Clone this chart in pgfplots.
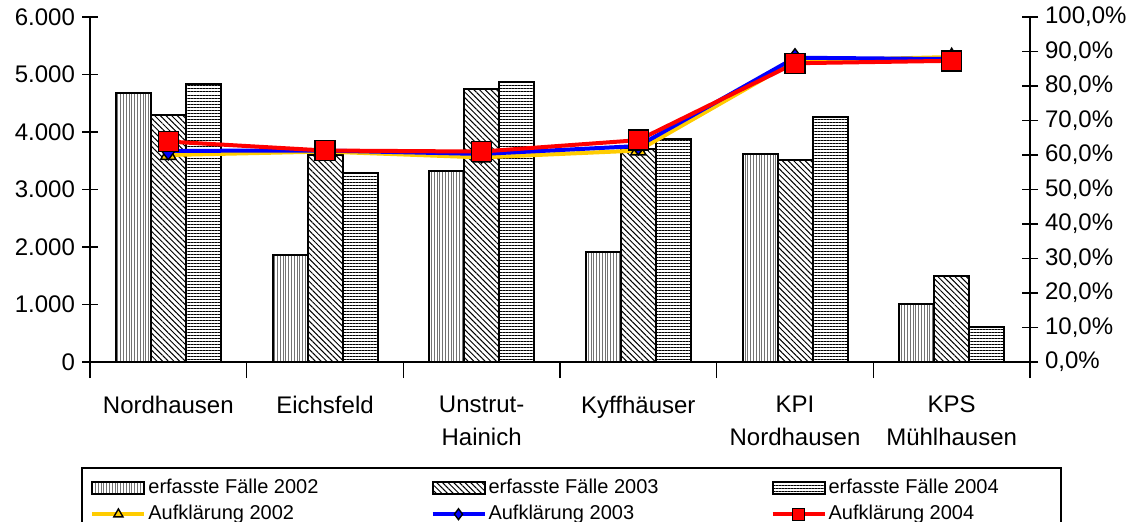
\documentclass[border=0pt]{standalone}
\usepackage{fontspec}
\setmainfont{Liberation Sans}
\usepackage{pgfplots}
\usepackage{pgfplotstable}
\pgfplotsset{compat=1.18}
\usetikzlibrary{patterns.meta}
\definecolor{cyel}{HTML}{FFCC00}
\definecolor{cblue}{HTML}{0000FF}
\definecolor{cred}{HTML}{FF0000}
\pgfplotstableread{
x  f02  f03  f04
0  4673 4290 4835
1  1861 3595 3281
2  3322 4748 4875
3  1907 3700 3878
4  3623 3513 4261
5  1009 1490  603
}\faelle
\pgfplotstableread{
x  a02   a03   a04
0  60.0  61.2  63.9
1  61.0  61.3  61.3
2  59.3  60.3  61.0
3  61.3  62.6  64.3
4  87.3  88.2  86.6
5  88.4  87.8  87.3
}\aufkl
\tikzset{
  p02/.style={pattern={Lines[angle=90,distance=1.4pt,line width=0.3pt]},pattern color=black!55},
  p03/.style={pattern={Lines[angle=-45,distance=2pt,line width=0.5pt]},pattern color=black},
  p04/.style={pattern={Lines[angle=0,distance=1.5pt,line width=0.5pt]},pattern color=black},
}
\pgfplotsset{
  base/.style={
    at={(45pt,79.5pt)}, anchor=south west,
    scale only axis, width=470pt, height=172.5pt,
    xmin=-0.5, xmax=5.5,
    font=\fontsize{12}{16.5}\selectfont,
    tick align=center, major tick length=8pt,
    /pgf/number format/assume math mode=true,
    every tick/.style={black, line width=0.6pt},
    axis line style={black, line width=0.6pt},
  },
  barleg/.style={legend image code/.code={\draw[##1] (0pt,-3pt) rectangle (26pt,3pt);}},
  lineleg/.style={legend image code/.code={\draw[##1, mark repeat=2, mark phase=2, every mark/.append style={scale=0.6}] plot coordinates {(0pt,0pt) (13pt,0pt) (26pt,0pt)};}},
}
\begin{document}
\begin{tikzpicture}
\useasboundingbox (0,0) rectangle (569.5pt,260.5pt);
\begin{axis}[base,
  axis y line*=left, axis x line*=bottom,
  ymin=0, ymax=6000, ytick={0,1000,...,6000},
  scaled y ticks=false,
  /pgf/number format/1000 sep={.},
  xtick={-0.5,0.5,1.5,2.5,3.5,4.5,5.5}, xticklabels={},
  extra x ticks={0,1,2,3,4,5},
  extra x tick labels={Nordhausen,Eichsfeld,{Unstrut-\\Hainich},Kyffhäuser,{KPI\\Nordhausen},{KPS\\Mühlhausen}},
  extra x tick style={major tick length=0pt, xticklabel style={align=center, anchor=north, yshift=-13.5pt}},
  ybar, bar width=0.2234,
]
\addplot[draw=black, line width=1pt, p02, bar shift=-0.2234] table[x=x,y=f02] {\faelle};
\addplot[draw=black, line width=1pt, p03, bar shift=0] table[x=x,y=f03] {\faelle};
\addplot[draw=black, line width=1pt, p04, bar shift=0.2234] table[x=x,y=f04] {\faelle};
\end{axis}
\begin{axis}[base,
  axis y line*=right, axis x line=none,
  ymin=0, ymax=100, ytick={0,10,...,100},
  yticklabel={\pgfmathprintnumber[fixed,fixed zerofill,precision=1,use comma]{\tick}\%},
  legend columns=3,
  legend cell align=left,
  legend style={at={(axis description cs:0,0)}, anchor=north west, yshift=-57.85pt,
    draw=none, fill=none, inner sep=0pt, row sep=3.5pt,
    font=\fontsize{10}{12}\selectfont,
    nodes={inner ysep=0pt, inner xsep=1pt, text height=7.5pt, text depth=2.2pt},
    /tikz/every odd column/.append style={column sep=0pt},
    /tikz/every even column/.append style={column sep=55pt}},
]
\addlegendimage{barleg, draw=black, line width=1pt, p02}
\addlegendentry{erfasste Fälle 2002}
\addlegendimage{barleg, draw=black, line width=1pt, p03}
\addlegendentry{erfasste Fälle 2003}
\addlegendimage{barleg, draw=black, line width=1pt, p04}
\addlegendentry{erfasste Fälle 2004}
\addplot[lineleg, cyel, line width=2pt, mark=triangle*, mark size=4.4pt, mark options={fill=cyel, draw=black, line width=0.7pt}] table[x=x,y=a02] {\aufkl};
\addlegendentry{Aufklärung 2002}
\addplot[lineleg, cblue, line width=2pt, mark=diamond*, mark size=4.5pt, mark options={fill=cblue, draw=black, line width=0.7pt}] table[x=x,y=a03] {\aufkl};
\addlegendentry{Aufklärung 2003}
\addplot[lineleg, cred, line width=2pt, mark=square*, mark size=5pt, mark options={fill=cred, draw=black, line width=0.7pt}] table[x=x,y=a04] {\aufkl};
\addlegendentry{Aufklärung 2004}
\end{axis}
\draw[line width=0.6pt] (41pt,-5pt) rectangle (530.5pt,26.5pt);
\end{tikzpicture}
\end{document}
